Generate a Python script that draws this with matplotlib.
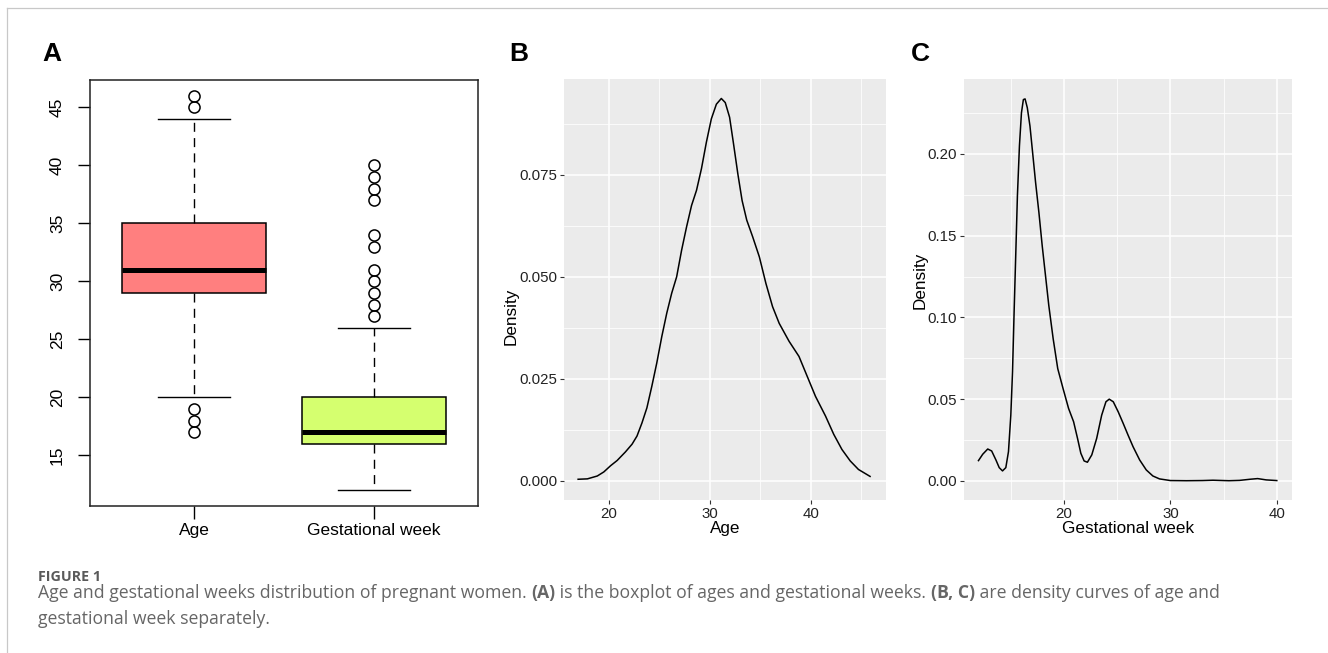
import matplotlib
matplotlib.use("Agg")
import matplotlib.pyplot as plt
from matplotlib.lines import Line2D
import numpy as np

plt.rcParams["font.family"] = ["Liberation Sans", "DejaVu Sans"]

# ---- data ----
box_labels = ["Age", "Gestational week"]
box_colors = ["#FF7F7F", "#D5FF6F"]
box_q1 = [29, 16]
box_med = [31, 17]
box_q3 = [35, 20]
box_whislo = [20, 12]
box_whishi = [44, 26]
age_fliers = [17, 18, 19, 45, 46]
gw_fliers = [27, 28, 29, 30, 31, 33, 34, 37, 38, 39, 40]

age_x = [16.95, 17.87, 18.85, 19.5, 20.16, 20.82, 21.64, 22.3, 22.79, 23.28, 23.77,
         24.26, 24.75, 25.25, 25.74, 26.23, 26.72, 27.21, 27.7, 28.2, 28.69, 29.18,
         29.67, 30.16, 30.66, 31.15, 31.54, 31.97, 32.36, 32.79, 33.21, 33.67, 34.26,
         34.92, 35.57, 36.23, 36.89, 37.87, 38.85, 39.67, 40.49, 41.48, 42.3, 43.11,
         43.93, 44.75, 45.9]
age_dens = [0.0004, 0.0005, 0.0012, 0.0022, 0.0037, 0.0050, 0.0071, 0.0090, 0.0110,
            0.0142, 0.0179, 0.0232, 0.0289, 0.0354, 0.0411, 0.0460, 0.0500, 0.0565,
            0.0622, 0.0675, 0.0712, 0.0765, 0.0830, 0.0887, 0.0923, 0.0937, 0.0927,
            0.0891, 0.0826, 0.0752, 0.0687, 0.0639, 0.0598, 0.0549, 0.0484, 0.0427,
            0.0386, 0.0342, 0.0305, 0.0256, 0.0207, 0.0159, 0.0114, 0.0077, 0.0049,
            0.0028, 0.0011]

gw_x = [11.96, 12.36, 12.83, 13.2, 13.6, 13.91, 14.22, 14.53, 14.78, 15.0, 15.16, 15.31,
        15.47, 15.62, 15.81, 16.0, 16.18, 16.34, 16.55, 16.8, 17.05, 17.33, 17.64, 17.95,
        18.26, 18.57, 18.98, 19.41, 19.91, 20.43, 20.9, 21.27, 21.58, 21.89, 22.2, 22.61,
        23.07, 23.54, 23.94, 24.25, 24.63, 25.09, 25.56, 26.02, 26.49, 27.11, 27.73,
        28.35, 28.98, 30.0, 31.5, 33.0, 34.0, 35.5, 36.5, 37.5, 38.2, 39.0, 40.0]
gw_dens = [0.0124, 0.0163, 0.0195, 0.0183, 0.0128, 0.0081, 0.0061, 0.0081, 0.0179,
           0.0402, 0.0667, 0.1033, 0.1398, 0.1744, 0.2049, 0.2252, 0.2333, 0.2337,
           0.2283, 0.2171, 0.2008, 0.1825, 0.1642, 0.1439, 0.1256, 0.1073, 0.0870,
           0.0687, 0.0565, 0.0443, 0.0362, 0.0260, 0.0169, 0.0122, 0.0114, 0.0159,
           0.0260, 0.0402, 0.0484, 0.0500, 0.0484, 0.0423, 0.0352, 0.0280, 0.0209,
           0.0128, 0.0067, 0.0030, 0.0012, 0.0002, 0.0001, 0.0002, 0.0004, 0.0001,
           0.0003, 0.0010, 0.0014, 0.0006, 0.0002]

caption_head = "FIGURE 1"
caption_line1 = [("Age and gestational weeks distribution of pregnant women. ", "normal"),
                 ("(A)", "bold"),
                 (" is the boxplot of ages and gestational weeks. ", "normal"),
                 ("(B, C)", "bold"),
                 (" are density curves of age and", "normal")]
caption_line2 = "gestational week separately."

W, H = 1328, 653
fig = plt.figure(figsize=(W / 100, H / 100), dpi=100)

# thin frame of the figure box
fig.add_artist(Line2D([6.7 / W, 1], [1 - 7.5 / H, 1 - 7.5 / H], color="#C8C8C8", lw=0.9))
fig.add_artist(Line2D([6.7 / W, 6.7 / W], [0, 1 - 7.5 / H], color="#C8C8C8", lw=0.9))

# ---- panel A : base-R style boxplot ----
axA = fig.add_axes([90 / W, 1 - 506 / H, 388 / W, 426 / H])
stats = []
for i, lab in enumerate(box_labels):
    stats.append(dict(label=lab, q1=box_q1[i], med=box_med[i], q3=box_q3[i],
                      whislo=box_whislo[i], whishi=box_whishi[i],
                      fliers=age_fliers if i == 0 else gw_fliers))
bp = axA.bxp(stats, positions=[1, 2], widths=0.8, capwidths=0.4, patch_artist=True,
             boxprops=dict(edgecolor="black", lw=1.1),
             medianprops=dict(color="black", lw=3.6, solid_capstyle="butt"),
             whiskerprops=dict(color="black", lw=1.0, linestyle=(0, (6.5, 4.5))),
             capprops=dict(color="black", lw=1.0),
             flierprops=dict(marker="o", markerfacecolor="none", markeredgecolor="black",
                             markersize=8, markeredgewidth=1.1))
for patch, c in zip(bp["boxes"], box_colors):
    patch.set_facecolor(c)
axA.set_xlim(0.42, 2.58)
axA.set_ylim(10.64, 47.36)
axA.set_yticks([15, 20, 25, 30, 35, 40, 45])
axA.set_yticklabels(["15", "20", "25", "30", "35", "40", "45"], rotation=90, va="center")
axA.tick_params(axis="both", length=9, width=1.0, color="black", labelsize=12.5)
axA.tick_params(axis="y", pad=9)
axA.tick_params(axis="x", pad=3)
for sp in axA.spines.values():
    sp.set_linewidth(1.1)
    sp.set_color("#222222")

# ---- panels B and C : ggplot style density ----
def gg_axes(rect):
    ax = fig.add_axes(rect)
    ax.set_facecolor("#EBEBEB")
    for sp in ax.spines.values():
        sp.set_visible(False)
    ax.grid(True, which="major", color="white", lw=1.1)
    ax.grid(True, which="minor", color="white", lw=0.55)
    ax.set_axisbelow(True)
    ax.tick_params(which="major", length=3, width=0.8, color="#333333",
                   labelcolor="#222222", labelsize=10.8, pad=2)
    ax.tick_params(which="minor", length=0)
    return ax

axB = gg_axes([564 / W, 1 - 500 / H, 321.7 / W, 420.7 / H])
axB.plot(age_x, age_dens, color="black", lw=1.1)
axB.set_xlim(15.55, 47.45)
axB.set_ylim(-0.00468, 0.0984)
axB.set_xticks([20, 30, 40])
axB.set_xticks([25, 35, 45], minor=True)
axB.set_yticks([0, 0.025, 0.05, 0.075])
axB.set_yticklabels(["0.000", "0.025", "0.050", "0.075"])
axB.set_yticks([0.0125, 0.0375, 0.0625, 0.0875], minor=True)
axB.set_xlabel("Age", fontsize=12.3, color="black")
axB.set_ylabel("Density", fontsize=12.3, color="black")
axB.xaxis.set_label_coords(0.5, -0.05)
axB.yaxis.set_label_coords(-0.14, 0.437)

axC = gg_axes([964 / W, 1 - 500 / H, 327.7 / W, 420.7 / H])
axC.plot(gw_x, gw_dens, color="black", lw=1.1)
axC.set_xlim(10.6, 41.4)
axC.set_ylim(-0.0117, 0.2457)
axC.set_xticks([20, 30, 40])
axC.set_xticks([15, 25, 35], minor=True)
axC.set_yticks([0, 0.05, 0.10, 0.15, 0.20])
axC.set_yticklabels(["0.00", "0.05", "0.10", "0.15", "0.20"])
axC.set_yticks([0.025, 0.075, 0.125, 0.175, 0.225], minor=True)
axC.set_xlabel("Gestational week", fontsize=12.3, color="black")
axC.set_ylabel("Density", fontsize=12.3, color="black")
axC.xaxis.set_label_coords(0.5, -0.05)
axC.yaxis.set_label_coords(-0.11, 0.523)

# panel letters
for lab, xp in [("A", 42), ("B", 509), ("C", 911)]:
    fig.text(xp / W, 1 - 61 / H, lab, fontsize=19, fontweight="bold", ha="left", va="baseline")

# ---- caption ----
cap_font = ["Open Sans", "DejaVu Sans"]
fig.text(38 / W, 1 - 581 / H, caption_head, family=cap_font, fontsize=10.3, fontweight="bold",
         color="#5A5A5A", va="baseline")
renderer = fig.canvas.get_renderer()
x = 38 / W
for txt, wt in caption_line1:
    t = fig.text(x, 1 - 598 / H, txt, family=cap_font, fontsize=12.7, fontweight=wt,
                 color="#666666", va="baseline")
    x += t.get_window_extent(renderer).width / W
fig.text(38 / W, 1 - 624 / H, caption_line2, family=cap_font, fontsize=12.7,
         color="#666666", va="baseline")

fig.savefig("out.png", dpi=100)
